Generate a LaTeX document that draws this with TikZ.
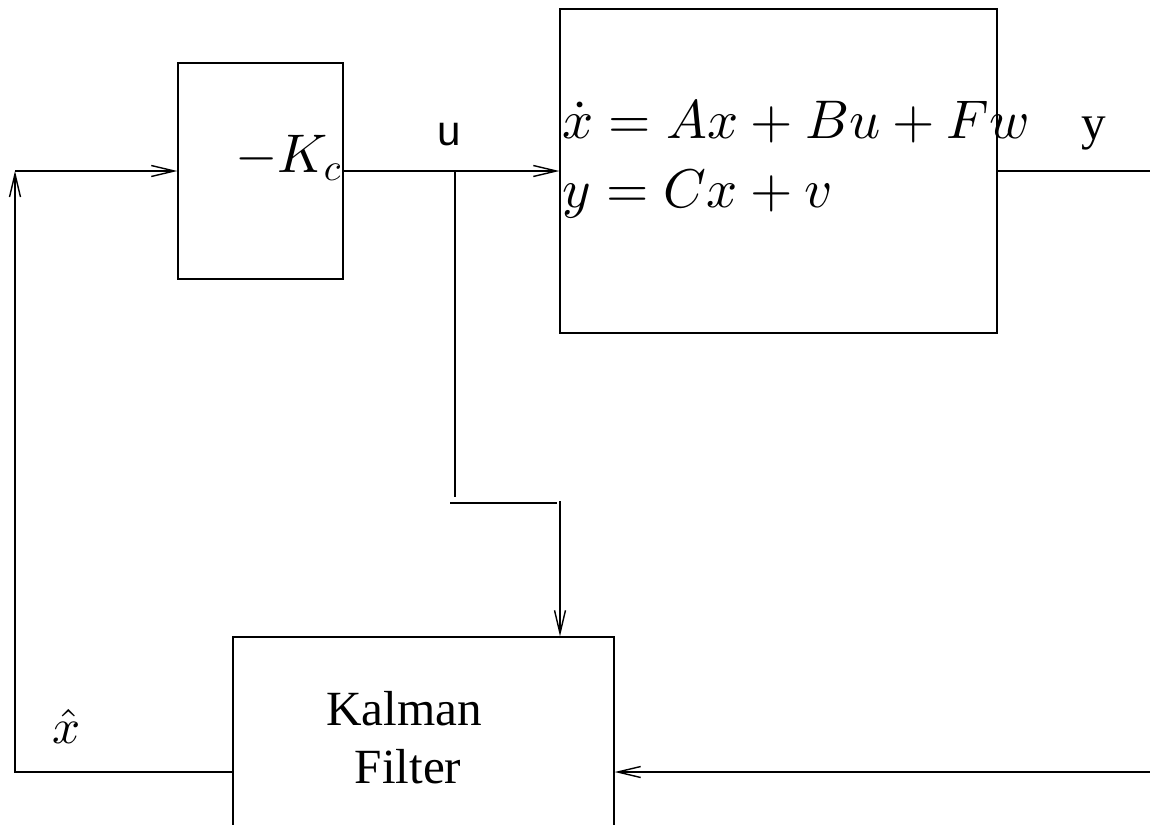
\documentclass[tikz,border=0pt]{standalone}
\usepackage{fontspec}
\setmainfont{Liberation Serif}
\newfontfamily\labelsans{Liberation Sans}
\DeclareFontShape{OML}{cmm}{m}{it}{<->cmmi10}{}
\DeclareFontShape{OMS}{cmsy}{m}{n}{<->cmsy10}{}
\DeclareFontShape{OT1}{cmr}{m}{n}{<->cmr10}{}
\usetikzlibrary{arrows.meta}

\begin{document}
\begin{tikzpicture}[x=0.02cm, y=-0.02cm, line width=0.8pt]
	\tikzstyle{block} = [rectangle, draw, inner sep=0pt]
	\tikzstyle{line} = [draw, -{Straight Barb[length=4.6mm, width=2.2mm]}]
	\tikzstyle{wire} = [draw]
	\tikzstyle{eqn} = [inner sep=0pt, font=\fontsize{31}{39}\selectfont]
	\tikzstyle{txt} = [inner sep=0pt, font=\fontsize{28}{33}\selectfont]
	
	\clip (0,0) rectangle (1150,825);
	
	\node [block, minimum width=3.3cm, minimum height=4.32cm] (gain) at (260.5,171) {};
	\node [block, minimum width=8.74cm, minimum height=6.48cm] (plant) at (778.5,171) {};
	\node [block, minimum width=7.62cm, minimum height=5.4cm] (kf) at (423.5,772) {};
	
	\node [eqn, anchor=base east] (gaintext) at (342,172) {$-K_c$};
	\node [eqn, anchor=base west] (stateeq) at (562,138) {$\dot{x} = Ax + Bu + Fw$};
	\node [eqn, anchor=base west] (outeq) at (562,207) {$y = Cx + v$};
	\node [txt, anchor=base] (kftop) at (404,725) {Kalman};
	\node [txt, anchor=base] (kfbot) at (408,783) {Filter};
	\node [txt, anchor=base] (xhat) at (67,743) {$\hat{x}$};
	\node [inner sep=0pt, anchor=base, font=\labelsans\fontsize{24}{28}\selectfont] (ulabel) at (449,145) {u};
	\node [txt, anchor=base] (ylabel) at (1094,139) {y};
	
	\coordinate (fbtop) at (15,171);
	\coordinate (fbcorner) at (15,772);
	\coordinate (ujoin) at (455,171);
	\coordinate (ubot) at (455,497);
	\coordinate (tapl) at (450,503);
	\coordinate (tapr) at (557,503);
	\coordinate (taptop) at (560,501);
	\coordinate (yout) at (1150,171);
	\coordinate (yin) at (1150,772);
	
	\path [line] (gain) -- (plant);
	\path [wire] (ujoin) -- (ubot);
	\path [wire] (tapl) -- (tapr);
	\path [line] (taptop) -- (taptop |- kf.north);
	\path [wire] (plant) -- (yout);
	\path [line] (yin) -- (kf);
	\path [line] (kf) -- (fbcorner) -- (fbtop);
	\path [line] (fbtop) -- (gain);
	
\end{tikzpicture}
\end{document}
